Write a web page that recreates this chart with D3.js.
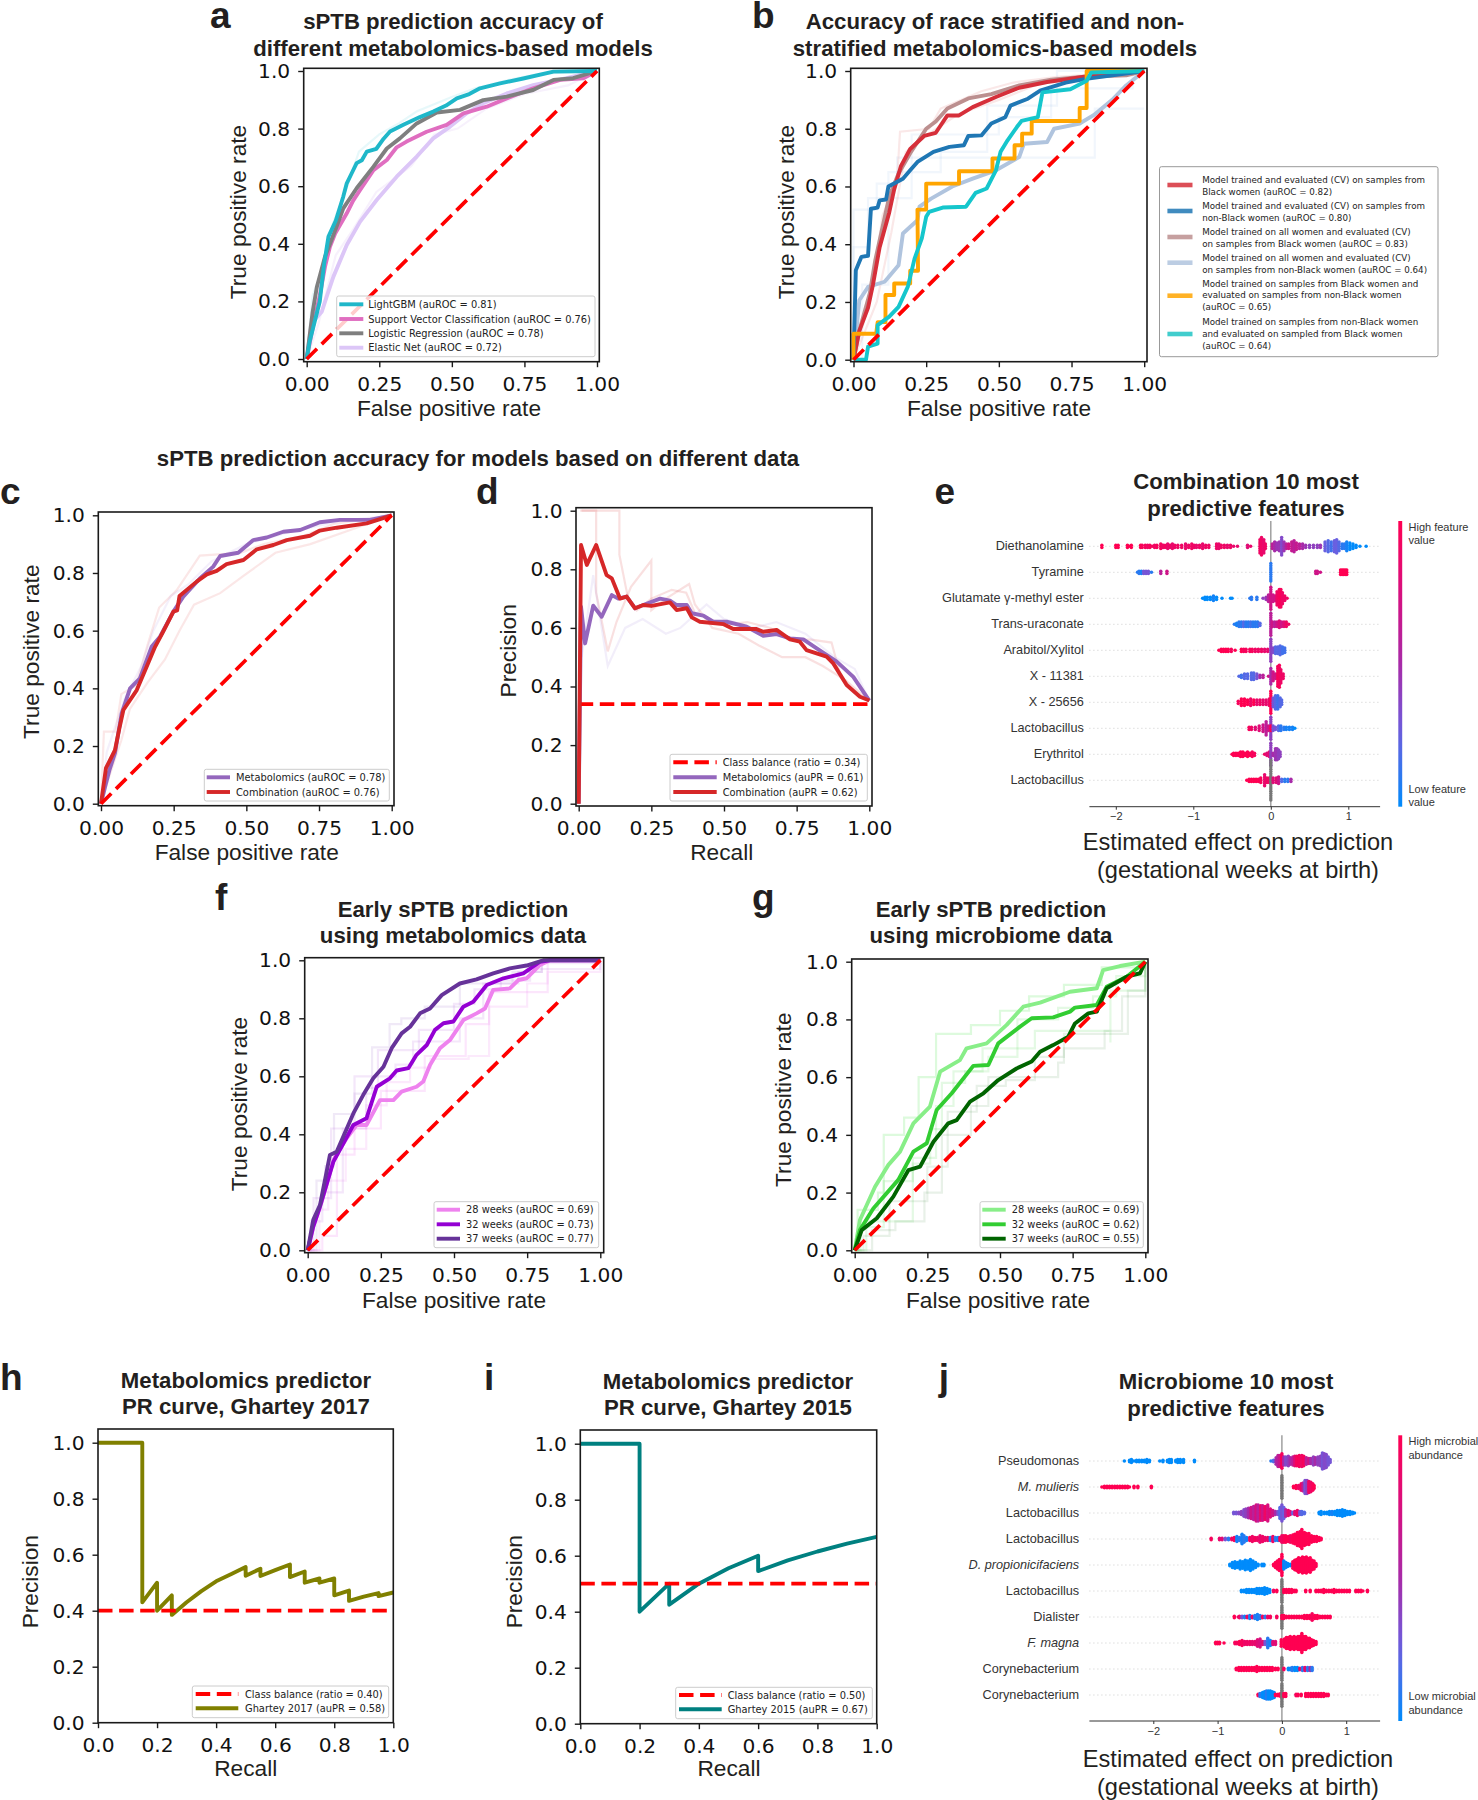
<!DOCTYPE html>
<html><head><meta charset="utf-8">
<script src="https://cdnjs.cloudflare.com/ajax/libs/d3/7.8.5/d3.min.js"></script>
<style>html,body{margin:0;background:#fff}svg{display:block}</style></head>
<body><svg id="c" width="1478" height="1800" xmlns="http://www.w3.org/2000/svg"></svg>
<script>
// ---------- data: panel a
const aLightGBM=[[0,0],[.01,.06],[.025,.12],[.045,.2],[.06,.33],[.075,.425],[.1,.48],[.126,.564],[.138,.61],[.155,.645],[.172,.68],[.19,.69],[.207,.72],[.24,.73],[.265,.765],[.287,.79],[.333,.813],[.39,.84],[.436,.859],[.48,.88],[.517,.905],[.56,.92],[.597,.94],[.666,.957],[.746,.974],[.85,.998],[1,1]];
const aSVC=[[0,0],[.015,.08],[.029,.147],[.045,.22],[.063,.32],[.08,.39],[.098,.436],[.138,.506],[.16,.55],[.184,.587],[.23,.656],[.276,.691],[.31,.735],[.344,.755],[.413,.789],[.482,.813],[.54,.853],[.62,.876],[.689,.905],[.78,.94],[.873,.969],[.953,.975],[1,1]];
const aLogistic=[[0,0],[.01,.08],[.02,.16],[.035,.25],[.063,.355],[.103,.46],[.126,.523],[.172,.593],[.23,.668],[.276,.731],[.321,.766],[.379,.818],[.448,.856],[.528,.865],[.608,.899],[.689,.911],[.78,.934],[.85,.969],[.918,.975],[1,1]];
const aElastic=[[0,0],[.017,.124],[.052,.164],[.07,.22],[.092,.286],[.138,.396],[.184,.477],[.241,.552],[.31,.633],[.379,.703],[.436,.766],[.494,.807],[.551,.853],[.608,.888],[.689,.922],[.78,.951],[.895,.975],[1,1]];
const aFaint1=[[0,0],[.02,.22],[.05,.3],[.09,.47],[.14,.6],[.18,.72],[.25,.78],[.32,.82],[.38,.86],[.5,.91],[.58,.94],[.7,.97],[.8,.99],[1,1]];
const aFaint2=[[0,0],[.04,.12],[.1,.36],[.16,.45],[.24,.58],[.36,.67],[.44,.78],[.52,.8],[.62,.87],[.75,.92],[.9,.95],[1,1]];
// ---------- data: panel b
const bRed=[[0,0],[.02,.1],[.05,.18],[.067,.26],[.09,.39],[.123,.51],[.14,.59],[.163,.67],[.195,.73],[.243,.775],[.283,.786],[.323,.846],[.363,.846],[.41,.875],[.49,.91],[.57,.942],[.666,.962],[.794,.98],[1,1]];
const bBlue=[[0,0],[.008,.31],[.027,.356],[.05,.36],[.06,.523],[.083,.527],[.09,.552],[.112,.555],[.12,.6],[.17,.627],[.195,.656],[.22,.685],[.275,.72],[.33,.737],[.38,.743],[.395,.775],[.44,.777],[.474,.818],[.522,.84],[.54,.88],[.6,.904],[.642,.932],[.73,.96],[.794,.972],[1,1]];
const bRosy=[[0,0],[.02,.1],[.056,.23],[.075,.345],[.1,.46],[.123,.565],[.155,.645],[.195,.715],[.25,.8],[.283,.825],[.323,.87],[.395,.905],[.474,.92],[.57,.95],[.68,.97],[.794,.98],[.938,.985],[1,1]];
const bSteel=[[0,0],[.02,.206],[.05,.252],[.107,.27],[.155,.327],[.17,.437],[.22,.483],[.227,.53],[.267,.558],[.34,.6],[.41,.627],[.49,.656],[.57,.702],[.586,.748],[.666,.754],[.69,.8],[.778,.818],[.826,.847],[.89,.9],[.938,.95],[1,1]];
const bOrange=[[0,0],[0,.09],[.078,.09],[.083,.13],[.11,.13],[.11,.224],[.14,.224],[.14,.264],[.195,.264],[.195,.308],[.222,.308],[.22,.52],[.25,.52],[.25,.61],[.363,.61],[.363,.653],[.478,.653],[.478,.697],[.554,.697],[.554,.743],[.58,.743],[.58,.783],[.613,.783],[.613,.827],[.778,.827],[.778,.872],[.802,.872],[.802,1],[1,1]];
const bTurq=[[0,0],[.043,0],[.05,.045],[.083,.056],[.083,.12],[.123,.149],[.155,.183],[.187,.253],[.21,.35],[.235,.42],[.25,.495],[.26,.512],[.307,.527],[.387,.53],[.42,.578],[.458,.593],[.49,.656],[.506,.72],[.53,.76],[.562,.806],[.578,.827],[.634,.84],[.65,.926],[.746,.937],[.802,.966],[.818,.995],[1,1]];
const bFaintSteel1=[[0,0],[0,.52],[.08,.52],[.08,.61],[.15,.61],[.15,.7],[.83,.7],[.83,.87],[1,.87]];
const bFaintSteel2=[[0,0],[0,.39],[.05,.39],[.05,.56],[.2,.56],[.2,.78],[.5,.78],[.5,.84],[.68,.84],[.68,.94],[.96,.94],[.96,1],[1,1]];
const bFaintSteel3=[[0,0],[.03,.26],[.12,.26],[.12,.65],[.3,.65],[.3,.72],[.46,.72],[.46,.88],[.7,.88],[.7,1],[1,1]];
const bFaintRose1=[[0,0],[.06,.22],[.1,.5],[.15,.62],[.16,.79],[.26,.8],[.3,.87],[.44,.93],[.55,.96],[.7,.98],[1,1]];
const bFaintRose2=[[0,0],[.08,.2],[.13,.44],[.18,.72],[.24,.77],[.36,.85],[.5,.9],[.65,.96],[.85,.99],[1,1]];
// ---------- data: panel c
const cPurple=[[0,0],[.014,.059],[.03,.12],[.048,.175],[.071,.313],[.1,.4],[.134,.435],[.174,.544],[.203,.579],[.249,.666],[.283,.718],[.34,.781],[.386,.822],[.41,.859],[.472,.87],[.524,.914],[.57,.923],[.627,.943],[.685,.949],[.753,.976],[.822,.984],[.925,.984],[1,1]];
const cRed=[[0,0],[.017,.123],[.048,.186],[.063,.26],[.077,.325],[.123,.394],[.157,.475],[.186,.544],[.214,.597],[.249,.666],[.262,.67],[.27,.72],[.329,.77],[.364,.795],[.398,.807],[.432,.831],[.49,.845],[.536,.882],[.593,.897],[.639,.914],[.719,.929],[.753,.947],[.811,.957],[.914,.972],[.96,.987],[1,1]];
const cFaint1=[[0,0],[.01,.25],[.05,.25],[.07,.38],[.12,.41],[.16,.55],[.2,.68],[.26,.74],[.34,.86],[.48,.87],[.56,.9],[.7,.93],[.8,.97],[1,1]];
const cFaint2=[[0,0],[.03,.1],[.07,.22],[.1,.33],[.16,.42],[.22,.5],[.27,.6],[.32,.69],[.41,.73],[.49,.79],[.6,.87],[.72,.9],[.86,.95],[1,1]];
const cFaint3=[[0,0],[.02,.18],[.08,.36],[.14,.48],[.18,.6],[.24,.72],[.3,.76],[.38,.84],[.5,.9],[.64,.94],[.82,.98],[1,1]];
// ---------- data: panel d
const dPurple=[[0,0],[.008,.672],[.022,.547],[.05,.676],[.079,.638],[.114,.712],[.136,.7],[.165,.707],[.194,.667],[.222,.678],[.28,.70],[.314,.693],[.337,.678],[.372,.678],[.389,.65],[.429,.642],[.463,.621],[.509,.621],[.578,.604],[.635,.573],[.681,.579],[.727,.564],[.773,.561],[.819,.53],[.888,.485],[.945,.433],[1,.352]];
const dRed=[[0,0],[.008,.883],[.028,.815],[.06,.883],[.096,.78],[.114,.769],[.142,.7],[.165,.707],[.194,.667],[.222,.678],[.25,.675],[.314,.687],[.337,.661],[.372,.667],[.389,.636],[.417,.621],[.497,.613],[.532,.596],[.612,.596],[.635,.587],[.681,.593],[.727,.561],[.761,.553],[.784,.524],[.853,.502],[.876,.479],[.922,.405],[.968,.365],[1,.352]];
const dFaint1=[[.005,1],[.14,1],[.14,.85],[.17,.7],[.2,.66],[.25,.7],[.32,.73],[.37,.72],[.4,.65],[.5,.61],[.58,.62],[.66,.6],[.72,.56],[.8,.56],[.87,.55],[.9,.44],[.95,.38],[1,.35]];
const dFaint2=[[.01,1],[.06,1],[.06,.72],[.1,.52],[.13,.62],[.18,.74],[.25,.83],[.25,.66],[.3,.7],[.38,.75],[.4,.68],[.46,.6],[.55,.58],[.62,.54],[.7,.5],[.78,.5],[.84,.47],[.92,.42],[1,.35]];
const dFaint3=[[.01,.5],[.05,.78],[.1,.47],[.16,.6],[.22,.63],[.3,.58],[.35,.6],[.44,.68],[.5,.63],[.6,.6],[.68,.62],[.78,.58],[.88,.5],[.95,.46],[1,.35]];
// ---------- data: panel f
const f28=[[0,0],[.019,.082],[.048,.168],[.088,.311],[.133,.386],[.167,.432],[.201,.432],[.247,.518],[.293,.518],[.321,.547],[.372,.564],[.395,.582],[.418,.639],[.452,.697],[.486,.725],[.532,.794],[.577,.817],[.606,.834],[.634,.898],[.691,.903],[.72,.932],[.748,.938],[.794,.984],[.828,1],[1,1]];
const f32=[[0,0],[.019,.082],[.042,.151],[.088,.306],[.156,.432],[.201,.455],[.236,.564],[.281,.593],[.304,.62],[.344,.628],[.372,.674],[.407,.708],[.435,.76],[.464,.783],[.498,.789],[.532,.84],[.566,.857],[.612,.915],[.669,.938],[.737,.955],[.794,.995],[.828,1],[1,1]];
const f37=[[0,0],[.019,.105],[.042,.156],[.076,.329],[.099,.34],[.156,.472],[.19,.536],[.224,.593],[.259,.633],[.287,.697],[.321,.748],[.35,.771],[.384,.817],[.418,.834],[.458,.88],[.52,.92],[.577,.934],[.634,.955],[.691,.972],[.748,.982],[.805,1],[1,1]];
const fFaint1=[[0,0],[.03,.24],[.06,.29],[.09,.47],[.16,.54],[.22,.62],[.22,.7],[.28,.78],[.32,.8],[.4,.84],[.52,.92],[.7,.96],[.8,1],[1,1]];
const fFaint2=[[0,0],[.05,.05],[.1,.15],[.1,.33],[.16,.42],[.23,.42],[.25,.55],[.36,.55],[.4,.67],[.54,.7],[.54,.78],[.62,.78],[.62,.89],[.82,.93],[.82,1],[1,1]];
const fFaint3=[[0,0],[.02,.18],[.08,.42],[.16,.6],[.3,.64],[.36,.72],[.44,.72],[.52,.8],[.6,.92],[.72,.96],[.8,.99],[1,1]];
const fFaint4=[[0,0],[.04,.14],[.07,.24],[.13,.35],[.2,.5],[.27,.58],[.35,.63],[.42,.66],[.55,.67],[.62,.84],[.75,.92],[.82,.96],[1,1]];
const fFaint5=[[0,0],[.01,.1],[.05,.2],[.12,.42],[.2,.56],[.24,.69],[.38,.76],[.5,.85],[.57,.9],[.66,.93],[.76,.97],[1,1]];
// ---------- data: panel g
const g28=[[0,0],[.018,.105],[.07,.22],[.116,.296],[.156,.342],[.202,.44],[.259,.498],[.294,.619],[.362,.659],[.385,.7],[.454,.717],[.523,.781],[.58,.844],[.638,.858],[.741,.896],[.833,.908],[.855,.971],[.913,.985],[1,1]];
const g32=[[0,0],[.018,.07],[.064,.145],[.15,.244],[.202,.342],[.248,.371],[.282,.486],[.334,.544],[.408,.639],[.46,.642],[.494,.717],[.569,.775],[.609,.804],[.683,.807],[.741,.827],[.758,.841],[.833,.85],[.867,.913],[.936,.948],[1,1]];
const g37=[[0,0],[.024,.07],[.076,.111],[.133,.186],[.185,.278],[.225,.29],[.271,.376],[.322,.44],[.351,.451],[.397,.515],[.443,.544],[.494,.59],[.557,.63],[.609,.654],[.638,.688],[.683,.711],[.735,.74],[.758,.786],[.804,.821],[.833,.827],[.867,.908],[.936,.948],[.982,.96],[1,1]];
const gFaint1=[[0,0],[.01,.14],[.08,.2],[.1,.4],[.17,.46],[.22,.6],[.28,.75],[.4,.78],[.5,.83],[.6,.88],[.72,.92],[.85,.98],[1,1]];
const gFaint2=[[0,0],[.04,.1],[.16,.1],[.2,.3],[.26,.42],[.3,.58],[.38,.62],[.44,.7],[.62,.7],[.62,.76],[.78,.76],[.88,.72],[.88,.9],[1,1]];
const gFaint3=[[0,0],[.06,.07],[.14,.1],[.24,.2],[.3,.4],[.4,.5],[.46,.6],[.56,.6],[.7,.65],[.72,.75],[.84,.75],[.94,.9],[1,1]];
const gFaint4=[[0,0],[.02,.08],[.1,.24],[.2,.32],[.28,.5],[.34,.62],[.46,.67],[.56,.8],[.7,.84],[.82,.88],[.9,.95],[1,1]];
const gFaint5=[[0,0],[.03,.05],[.12,.17],[.25,.29],[.32,.48],[.42,.57],[.52,.59],[.62,.67],[.72,.7],[.86,.76],[.92,.88],[1,1]];
// ---------- data: panels h, i
const hCurve=[[0,1],[.15,1],[.15,.43],[.2,.5],[.2,.4],[.25,.455],[.25,.385],[.3,.43],[.35,.47],[.4,.505],[.45,.53],[.5,.556],[.5,.525],[.55,.55],[.55,.524],[.6,.545],[.65,.565],[.65,.52],[.7,.54],[.7,.5],[.75,.515],[.75,.5],[.8,.515],[.8,.455],[.85,.472],[.85,.435],[.9,.45],[.95,.463],[.95,.452],[1,.465]];
const iCurve=[[0,1],[.2,1],[.2,.4],[.3,.5],[.3,.425],[.4,.5],[.5,.555],[.6,.6],[.6,.545],[.7,.583],[.8,.615],[.9,.643],[1,.667]];
const hBalance=.40, iBalance=.50, dBalance=.34;
// ---------- data: panel e, each entry = effect, dots stacked at it, feature value (null = missing)
const eLabels=["Diethanolamine","Tyramine","Glutamate γ-methyl ester","Trans-uraconate","Arabitol/Xylitol","X - 11381","X - 25656","Lactobacillus","Erythritol","Lactobacillus"];
const eDieth=[[-2.18,2,1],[-2,2,1],[-1.97,2,1],[-1.85,2,1],[-1.83,1,1],[-1.8,2,1],[-1.68,2,1],[-1.66,2,.95],[-1.62,2,.95],[-1.59,2,.9],[-1.56,2,.95],[-1.53,1,.95],[-1.5,2,.9],[-1.47,2,.95],[-1.42,3,.95],[-1.4,2,.9],[-1.38,2,.9],[-1.35,2,.95],[-1.33,3,.85],[-1.3,2,.9],[-1.27,3,.85],[-1.24,2,.9],[-1.2,2,.9],[-1.15,2,.9],[-1.1,3,.85],[-1.06,2,.9],[-1.02,3,.9],[-.99,2,.9],[-.96,2,.85],[-.92,2,.9],[-.88,3,.85],[-.84,2,.9],[-.8,2,.9],[-.7,3,.9],[-.67,3,.85],[-.64,2,.9],[-.6,2,.9],[-.56,2,.85],[-.52,2,.9],[-.48,1,.85],[-.43,1,.85],[-.3,2,.8],[-.26,1,.85],[-.14,7,.9],[-.12,9,.9],[-.09,7,.85],[-.07,3,.9],[.02,3,.6],[.05,5,.5],[.08,4,.45],[.11,5,.45],[.14,9,.35],[.17,5,.45],[.2,3,.6],[.23,3,.7],[.27,5,.65],[.3,6,.6],[.33,4,.65],[.37,3,.6],[.41,3,.5],[.45,2,.45],[.5,2,.4],[.55,2,.4],[.6,2,.4],[.64,2,.45],[.7,5,.25],[.74,6,.2],[.78,5,.15],[.82,6,.25],[.85,7,.25],[.88,5,.2],[.92,3,.1],[.95,3,.1],[.98,5,.05],[1.02,4,0],[1.06,3,0],[1.1,2,0],[1.15,1,0],[1.23,1,0]];
const eTyr=[[-1.72,1,.1],[-1.7,2,.1],[-1.67,2,.05],[-1.64,2,.3],[-1.61,2,.3],[-1.58,2,.3],[-1.54,1,.1],[-1.42,2,.6],[-1.34,2,.7],[0,9,.1],[.58,2,.7],[.6,2,.7],[.64,1,.7],[.9,3,1],[.92,3,1],[.94,3,1],[.96,3,1],[.98,3,1]];
const eGlu=[[-.88,1,0],[-.85,2,0],[-.82,2,0],[-.78,2,0],[-.74,3,.05],[-.7,2,0],[-.63,1,0],[-.52,1,0],[-.5,1,0],[-.27,1,.1],[-.25,2,.1],[-.18,2,.1],[-.1,1,.4],[-.06,2,.45],[-.03,4,.6],[0,11,.7],[.03,4,.7],[.06,3,.7],[.08,7,.9],[.11,9,.95],[.13,9,.95],[.15,6,.9],[.18,3,.9],[.21,1,.9]];
const eTrans=[[-.47,1,.1],[-.44,2,.05],[-.41,3,.1],[-.38,3,.1],[-.35,3,.2],[-.32,3,.1],[-.29,3,.1],[-.26,3,.15],[-.23,3,.1],[-.2,3,.1],[-.17,3,.1],[-.14,2,.2],[0,11,.6],[.02,3,.7],[.05,3,.6],[.08,3,.7],[.11,4,.8],[.14,3,.7],[.17,3,.8],[.2,3,.9],[.23,1,.9]];
const eArab=[[-.67,1,1],[-.64,2,1],[-.61,2,1],[-.58,2,1],[-.55,2,1],[-.51,2,.95],[-.46,1,1],[-.38,2,1],[-.35,2,.95],[-.32,2,.95],[-.27,2,.95],[-.24,2,.95],[-.2,2,.9],[-.16,2,.9],[-.12,2,.9],[-.08,2,.85],[-.04,2,.85],[0,11,.4],[.03,3,.35],[.06,4,.2],[.09,4,.2],[.12,5,.2],[.15,4,.15],[.18,3,.15]];
const eX1=[[-.41,1,.2],[-.38,2,.15],[-.34,3,.2],[-.3,3,.2],[-.25,4,.2],[-.22,4,.2],[-.18,3,.3],[-.14,2,.5],[-.1,2,.6],[-.03,1,.7],[0,8,.5],[.03,5,.7],[.06,3,.7],[.09,10,.95],[.11,11,.95],[.13,7,.9],[.16,3,.9]];
const eX2=[[-.42,2,.95],[-.38,4,1],[-.34,4,1],[-.3,3,1],[-.26,4,.9],[-.22,3,1],[-.18,3,.85],[-.14,3,.9],[-.1,3,.85],[-.06,3,.85],[-.02,4,.85],[0,11,1],[.03,5,.3],[.06,7,.2],[.09,7,.15],[.12,5,.2],[.14,3,.2]];
const eLac1=[[-.28,2,.95],[-.25,2,.9],[-.2,2,.8],[-.15,3,.8],[-.1,4,.7],[-.06,7,.6],[-.03,3,.7],[0,11,.4],[0,3,1],[.03,3,.3],[.06,2,.3],[.1,3,.2],[.13,3,.1],[.17,2,.1],[.2,2,.05],[.24,2,.05],[.28,2,.05],[.31,1,0]];
const eEry=[[-.5,1,1],[-.48,2,1],[-.45,2,1],[-.42,2,1],[-.39,3,1],[-.36,3,1],[-.33,2,1],[-.3,3,1],[-.27,2,1],[-.24,3,.95],[-.21,2,.95],[-.08,1,.9],[-.05,2,.8],[-.02,3,.8],[0,11,.4],[.03,2,.5],[.06,6,.45],[.08,6,.45],[.1,5,.4],[.12,3,.4]];
const eLac2=[[-.31,1,1],[-.28,2,1],[-.25,2,1],[-.22,2,1],[-.19,2,1],[-.16,2,1],[-.13,3,.95],[-.08,6,.85],[-.05,3,.9],[-.02,3,.9],[0,19,null],[.03,3,.8],[.07,3,.8],[.1,4,.7],[.14,2,.2],[.18,2,.1],[.22,2,.1],[.26,2,.5]];
// ---------- data: panel j
const jLabels=["Pseudomonas","M. mulieris","Lactobacillus","Lactobacillus","D. propionicifaciens","Lactobacillus","Dialister","F. magna","Corynebacterium","Corynebacterium"];
const jItalic=["M. mulieris","D. propionicifaciens","F. magna"];
const jPseudo=[[-2.45,1,0],[-2.37,2,0],[-2.34,3,0],[-2.3,1,0],[-2.26,2,0],[-2.22,2,0],[-2.18,2,0],[-2.14,2,0],[-2.1,3,0],[-2.06,2,0],[-1.9,1,0],[-1.85,2,0],[-1.78,2,0],[-1.75,3,0],[-1.72,3,0],[-1.65,2,0],[-1.62,3,0],[-1.58,3,0],[-1.53,3,0],[-1.36,2,0],[-.17,1,.1],[-.13,2,.2],[-.09,5,.5],[-.06,8,.6],[-.03,8,.7],[0,10,.95],[.03,6,.5],[.06,6,.35],[.1,7,.4],[.13,5,.5],[.17,6,.6],[.2,7,.8],[.23,7,.95],[.27,8,.95],[.31,8,.9],[.34,7,.95],[.38,5,.6],[.42,4,.7],[.45,4,.5],[.49,6,.4],[.52,5,.5],[.56,6,.4],[.6,7,.4],[.63,11,.3],[.66,10,.35],[.69,9,.35],[.72,6,.3],[.75,3,.3]];
const jMul=[[-2.8,1,1],[-2.76,2,1],[-2.72,2,1],[-2.68,2,1],[-2.64,2,1],[-2.6,2,1],[-2.56,2,1],[-2.52,2,1],[-2.48,2,1],[-2.44,2,1],[-2.4,2,1],[-2.37,1,1],[-2.3,2,1],[-2.24,2,1],[-2.03,2,1],[0,15,null],[.18,2,1],[.22,3,1],[.26,3,.9],[.3,5,.9],[.33,6,.6],[.36,9,.3],[.39,9,.4],[.42,8,.9],[.45,7,.9],[.48,5,.95],[.5,3,1]];
const jLac1=[[-.75,2,.3],[-.71,2,.3],[-.67,2,.35],[-.63,3,.4],[-.59,5,.35],[-.56,6,.4],[-.52,7,.5],[-.48,8,.7],[-.44,9,.6],[-.4,11,.75],[-.37,11,.6],[-.33,10,.85],[-.3,10,.7],[-.26,9,.9],[-.22,11,.75],[-.18,6,.8],[-.14,4,.7],[-.1,3,.5],[-.06,3,.3],[-.03,8,.2],[0,11,.3],[.03,8,.25],[.06,5,.6],[.1,4,.85],[.13,3,.8],[.17,2,.25],[.2,3,.8],[.24,4,.9],[.28,3,.3],[.31,3,.2],[.35,2,.2],[.58,2,0],[.61,3,0],[.66,2,0],[.7,2,0],[.74,3,0],[.78,3,.05],[.82,3,0],[.86,4,0],[.9,4,0],[.94,5,0],[.98,4,0],[1.02,3,0],[1.06,3,0],[1.1,2,0],[1.13,1,0]];
const jLac2=[[-1.1,2,.95],[-.97,2,.85],[-.93,2,.8],[-.88,2,.3],[-.83,2,.1],[-.78,2,.9],[-.74,3,.95],[-.7,4,.05],[-.66,3,.1],[-.62,7,.05],[-.59,5,.1],[-.55,3,.05],[-.5,3,.95],[-.46,4,.9],[-.42,3,.95],[-.38,3,.9],[-.34,5,.85],[-.3,4,.9],[-.26,3,.85],[-.22,3,.9],[-.18,3,.1],[-.14,4,.9],[-.1,3,.1],[-.06,3,.05],[-.03,3,1],[0,5,.9],[.03,5,.95],[.06,5,1],[.1,4,1],[.13,5,.95],[.17,6,1],[.2,7,1],[.24,9,1],[.28,10,1],[.31,13,1],[.35,9,1],[.38,8,1],[.42,8,1],[.46,5,1],[.5,4,1],[.54,4,1],[.58,3,1],[.61,2,1]];
const jDprop=[[-.81,2,0],[-.77,4,0],[-.73,5,0],[-.69,4,0],[-.65,6,0],[-.61,5,0],[-.57,7,0],[-.53,6,0],[-.49,8,0],[-.45,6,0],[-.41,4,0],[-.37,2,0],[-.31,2,0],[-.28,2,0],[-.13,2,1],[-.1,4,1],[-.07,6,1],[-.04,8,1],[0,14,1],[.03,6,0],[.06,4,.05],[.09,3,0],[.13,2,0],[.17,5,1],[.2,7,1],[.23,8,1],[.26,10,1],[.29,9,1],[.32,11,1],[.35,10,1],[.38,11,1],[.41,9,1],[.44,10,1],[.47,7,1],[.5,6,1],[.53,3,1]];
const jLac3=[[-.63,2,0],[-.59,2,0],[-.55,3,0],[-.51,3,0],[-.47,3,0],[-.43,3,0],[-.39,4,0],[-.35,4,0],[-.31,4,0],[-.27,5,0],[-.23,4,0],[-.19,3,0],[-.13,2,.95],[-.08,2,1],[0,15,null],[.03,3,1],[.07,3,1],[.11,3,1],[.15,3,1],[.19,2,1],[.22,2,1],[.37,2,1],[.44,2,1],[.53,2,1],[.57,2,1],[.61,2,1],[.65,3,1],[.69,2,1],[.73,2,1],[.77,2,1],[.81,3,1],[.85,2,1],[.89,2,1],[.93,2,1],[.97,2,1],[1.01,2,1],[1.05,2,1],[1.15,2,1],[1.19,2,1],[1.23,2,1],[1.26,1,1],[1.33,2,1]];
const jDial=[[-.74,2,1],[-.68,1,.9],[-.66,2,.9],[-.62,2,.3],[-.58,2,.05],[-.54,2,.9],[-.5,3,.05],[-.46,2,.9],[-.42,3,.1],[-.38,4,.05],[-.34,3,.1],[-.3,2,.95],[-.26,2,.1],[-.22,2,.9],[-.18,2,.95],[-.08,2,.95],[0,15,null],[0,3,1],[.03,3,1],[.07,2,1],[.11,2,1],[.15,2,1],[.19,2,1],[.23,2,1],[.27,2,1],[.31,2,1],[.35,3,1],[.39,3,1],[.43,3,1],[.47,5,.95],[.51,3,1],[.55,3,1],[.59,2,1],[.63,2,1],[.67,2,1],[.71,2,1],[.75,2,1]];
const jFmag=[[-1.03,2,1],[-1,2,1],[-.97,2,1],[-.9,1,1],[-.73,2,.95],[-.7,2,.95],[-.66,3,1],[-.62,4,.95],[-.58,3,.9],[-.54,3,.9],[-.5,3,.9],[-.46,3,.85],[-.42,3,.85],[-.38,5,.8],[-.34,6,.75],[-.3,3,.8],[-.26,3,.3],[-.22,7,.1],[-.18,4,.05],[-.14,3,.8],[-.1,3,.8],[-.01,5,1],[.04,6,1],[.07,8,1],[.1,8,1],[.13,9,1],[.16,8,1],[.19,9,1],[.22,8,1],[.25,9,1],[.28,9,1],[.31,13,1],[.34,9,1],[.37,9,1],[.4,7,1],[.43,7,1],[.46,5,1],[.49,4,1],[.53,3,1]];
const jCor1=[[-.71,2,1],[-.67,3,1],[-.63,3,1],[-.59,3,1],[-.55,3,1],[-.51,3,1],[-.47,3,1],[-.43,3,1],[-.39,4,1],[-.35,3,1],[-.31,3,1],[-.27,3,1],[-.23,3,1],[-.19,3,1],[-.15,3,1],[-.1,2,1],[-.06,2,1],[0,15,null],[.03,2,.95],[.1,2,0],[.13,2,0],[.16,3,.1],[.2,3,0],[.24,3,0],[.28,2,.9],[.32,3,.1],[.36,3,.9],[.4,3,.1],[.44,3,.5],[.47,3,.1]];
const jCor2=[[-.37,2,1],[-.34,3,.1],[-.3,4,0],[-.27,5,0],[-.24,6,.1],[-.21,6,0],[-.18,6,0],[-.15,5,0],[-.12,4,0],[-.1,2,1],[-.06,2,1],[-.02,3,1],[0,15,null],[.03,3,1],[.06,3,1],[.22,2,.95],[.25,2,1],[.3,2,1],[.37,3,1],[.41,3,1],[.45,3,1],[.49,3,1],[.53,3,1],[.57,3,1],[.61,3,1],[.65,3,1],[.69,2,1],[.72,2,1]];
const eRows=[eDieth,eTyr,eGlu,eTrans,eArab,eX1,eX2,eLac1,eEry,eLac2];
const jRows=[jPseudo,jMul,jLac1,jLac2,jDprop,jLac3,jDial,jFmag,jCor1,jCor2];
const ticksQuarter=[0,.25,.5,.75,1], ticksFifth=[0,.2,.4,.6,.8,1];
const effectStops=[0,.25,.5,.75,1], effectColors=['#008bfb','#6a60e0','#a82aa8','#d80f7f','#ff0052'];

// ---------- helpers
const svg=d3.select("#c");
const HEL='"Liberation Sans",Arial,sans-serif', DJV='"DejaVu Sans",sans-serif', INK='#231f20';
const LW=3.9;
const defs=svg.append('defs');
let clipN=0;
function txt(x,y,s,o={}){
  return svg.append('text').attr('x',x).attr('y',y).text(s)
    .attr('font-family',o.family||HEL).attr('font-size',o.size||22.7).attr('font-weight',o.weight||'normal')
    .attr('font-style',o.style||'normal').attr('text-anchor',o.anchor||'middle').attr('fill',o.fill||INK)
    .attr('transform',o.rot?`rotate(${o.rot} ${x} ${y})`:null);
}
const title=(x,y,s,size=22.2)=>txt(x,y,s,{size,weight:'bold'});
const letter=(x,y,s)=>txt(x,y,s,{size:37,weight:'bold',anchor:'start'});
function panel(p){
  const x=d3.scaleLinear().domain([0,1]).range([p.x0,p.x1]);
  const y=d3.scaleLinear().domain([0,1]).range([p.y0,p.y1]);
  const id='clip'+(clipN++);
  defs.append('clipPath').attr('id',id).append('rect').attr('x',p.l).attr('y',p.t).attr('width',p.r-p.l).attr('height',p.b-p.t);
  const g=svg.append('g').attr('clip-path',`url(#${id})`);
  const smooth=d3.line().x(d=>x(d[0])).y(d=>y(d[1]));
  const step=d3.line().x(d=>x(d[0])).y(d=>y(d[1])).curve(d3.curveStepAfter);
  (p.faint||[]).forEach(f=>g.append('path').datum(f[0]).attr('d',f[2]?smooth:step).attr('fill','none').attr('stroke',f[1]).attr('stroke-width',2.2).attr('stroke-opacity',f[3]||.14));
  (p.lines||[]).forEach(l=>g.append('path').datum(l[0]).attr('d',smooth).attr('fill','none').attr('stroke',l[1]).attr('stroke-width',l[2]||LW).attr('stroke-linejoin','round'));
  const dash=(p.balance!=null)?[[0,p.balance],[1,p.balance]]:[[0,0],[1,1]];
  g.append('path').datum(dash).attr('d',smooth).attr('fill','none').attr('stroke','#f00').attr('stroke-width',3.7).attr('stroke-dasharray','14.5 6.6');
  (p.over||[]).forEach(l=>g.append('path').datum(l[0]).attr('d',smooth).attr('fill','none').attr('stroke',l[1]).attr('stroke-width',l[2]||LW).attr('stroke-linejoin','round'));
  const xf=p.xfmt||'.2f', xt=p.xticks||ticksQuarter;
  const ax=svg.append('g').attr('transform',`translate(0,${p.b})`).call(d3.axisBottom(x).tickValues(xt).tickFormat(d3.format(xf)).tickSize(5.5).tickPadding(9.5));
  const ay=svg.append('g').attr('transform',`translate(${p.l},0)`).call(d3.axisLeft(y).tickValues(ticksFifth).tickFormat(d3.format('.1f')).tickSize(5.5).tickPadding(8));
  [ax,ay].forEach(a=>{a.select('.domain').remove();a.selectAll('line').attr('stroke','#1a1a1a').attr('stroke-width',1.4);
    a.selectAll('text').attr('font-family',DJV).attr('font-size',20.2).attr('fill','#111');});
  svg.append('rect').attr('x',p.l).attr('y',p.t).attr('width',p.r-p.l).attr('height',p.b-p.t).attr('fill','none').attr('stroke','#1a1a1a').attr('stroke-width',1.6);
  if(p.xlabel) txt(p.xlabel[1],p.xlabel[2]+1.3,p.xlabel[0]);
  if(p.ylabel) txt(p.ylabel[1]-1,p.ylabel[2],p.ylabel[0],{rot:-90});
  if(p.legend) legend(p.legend);
}
function legend(L){
  svg.append('rect').attr('x',L.x0).attr('y',L.y0).attr('width',L.x1-L.x0).attr('height',L.y1-L.y0).attr('rx',2).attr('fill','#fff').attr('fill-opacity',.8).attr('stroke',L.border||'#ccc').attr('stroke-width',1);
  L.rows.forEach(r=>{
    svg.append('line').attr('x1',L.lx0).attr('x2',L.lx1).attr('y1',r.y).attr('y2',r.y).attr('stroke',r.color).attr('stroke-width',L.lineWidth||LW).attr('stroke-opacity',L.lineOpacity||1).attr('stroke-dasharray',r.dash?'14.5 6.6':null);
    r.text.forEach((t,i)=>txt(L.tx,r.tys?r.tys[i]:r.y+3.6,t,{family:DJV,size:L.size||9.85,anchor:'start',fill:'#222'}));
  });
}
const colorOf=d3.scaleLinear().domain(effectStops).range(effectColors);
function swarm(o){
  const x=d3.scaleLinear().domain([0,1]).range([o.z,o.z+o.unit]);
  const rowY=i=>o.y0+i*26;
  const dots=[];
  o.rows.forEach((r,i)=>{
    r.forEach(e=>{for(let k=0;k<e[1];k++)dots.push({v:e[0],c:e[2],y:rowY(i)+(k-(e[1]-1)/2)*o.gap});});
  });
  o.rows.forEach((r,i)=>svg.append('line').attr('x1',o.ax0).attr('x2',o.ax1).attr('y1',rowY(i)).attr('y2',rowY(i)).attr('stroke','#ccc').attr('stroke-width',1).attr('stroke-dasharray','1 3'));
  svg.append('line').attr('x1',x(0)).attr('x2',x(0)).attr('y1',o.top).attr('y2',o.axis).attr('stroke','#999').attr('stroke-width',1.4);
  svg.append('g').selectAll('circle').data(dots).join('circle').attr('cx',d=>x(d.v)).attr('cy',d=>d.y).attr('r',1.75).attr('fill',d=>d.c==null?'#777':colorOf(d.c));
  svg.append('line').attr('x1',o.ax0).attr('x2',o.ax1).attr('y1',o.axis).attr('y2',o.axis).attr('stroke','#333').attr('stroke-width',1);
  const ax=svg.append('g').attr('transform',`translate(0,${o.axis})`).call(d3.axisBottom(x).tickValues([-2,-1,0,1]).tickFormat(d3.format('d')).tickSize(3).tickPadding(3));
  ax.select('.domain').remove();ax.selectAll('line').attr('stroke','#333');
  ax.selectAll('text').attr('font-family',HEL).attr('font-size',11).attr('fill','#333');
  o.labels.forEach((t,i)=>txt(o.lx,rowY(i)+.5,t,{size:12.7,anchor:'end',fill:'#333',style:(jItalic.includes(t)?'italic':'normal')}).attr('dominant-baseline','middle'));
  const id='grad'+(clipN++);
  const gr=defs.append('linearGradient').attr('id',id).attr('x1',0).attr('x2',0).attr('y1',0).attr('y2',1);
  d3.range(0,1.01,.1).forEach(t=>gr.append('stop').attr('offset',t).attr('stop-color',colorOf(1-t)));
  svg.append('rect').attr('x',1398.3).attr('width',3.9).attr('y',o.top).attr('height',o.axis-o.top).attr('fill',`url(#${id})`);
  o.cbText.forEach(c=>txt(1408.5,c[1],c[0],{size:11,anchor:'start',fill:'#333'}));
}

// ---------- panel a
letter(210,28,'a');
title(453,29,'sPTB prediction accuracy of');title(453,56,'different metabolomics-based models');
panel({l:303.7,r:599.3,t:68.3,b:361.7,x0:306.7,x1:597,y0:359,y1:71,
 faint:[[aFaint1,'#17becf',1,.1],[aFaint2,'#d7b8f0',1,.2]],
 lines:[[aElastic,'#dcc6f7'],[aSVC,'#e06ec0'],[aLogistic,'#7f7f7f'],[aLightGBM,'#1fb7c9']],
 xlabel:['False positive rate',449,415],ylabel:['True positive rate',246.5,212],
 legend:{x0:336.7,x1:595,y0:296,y1:356.7,lx0:339.3,lx1:363.3,tx:368.3,rows:[
  {y:304.3,color:'#1fb7c9',text:['LightGBM (auROC = 0.81)']},{y:319,color:'#e06ec0',text:['Support Vector Classification (auROC = 0.76)']},
  {y:333.3,color:'#7f7f7f',text:['Logistic Regression (auROC = 0.78)']},{y:347.7,color:'#dcc6f7',text:['Elastic Net (auROC = 0.72)']}]}});

// ---------- panel b
letter(752,28,'b');
title(995,29,'Accuracy of race stratified and non-');title(995,56,'stratified metabolomics-based models');
panel({l:850.7,r:1147,t:68.3,b:361.7,x0:853.5,x1:1144.2,y0:359.7,y1:71,
 faint:[[bFaintSteel1,'#9fc0e8'],[bFaintSteel2,'#9fc0e8'],[bFaintSteel3,'#9fc0e8'],[bFaintRose1,'#e58a8a',1,.2],[bFaintRose2,'#e58a8a',1,.2]],
 lines:[[bSteel,'#b0c4de'],[bRosy,'#bc8f8f'],[bRed,'#d62f3a'],[bBlue,'#1f77b4'],[bOrange,'#ffa500'],[bTurq,'#15c6cc']],
 xlabel:['False positive rate',999,415],ylabel:['True positive rate',794.5,212],
 legend:{x0:1159.5,x1:1438,y0:166.7,y1:356.7,lx0:1167.4,lx1:1192.5,tx:1202.2,size:8.72,border:'#999',lineOpacity:.85,lineWidth:4.6,rows:[
  {y:185,color:'#d62f3a',text:['Model trained and evaluated (CV) on samples from','Black women (auROC = 0.82)'],tys:[183,195]},
  {y:211,color:'#1f77b4',text:['Model trained and evaluated (CV) on samples from','non-Black women (auROC = 0.80)'],tys:[209,221]},
  {y:237,color:'#bc8f8f',text:['Model trained on all women and evaluated (CV)','on samples from Black women (auROC = 0.83)'],tys:[235,247]},
  {y:262.7,color:'#b0c4de',text:['Model trained on all women and evaluated (CV)','on samples from non-Black women (auROC = 0.64)'],tys:[261,272.7]},
  {y:295.7,color:'#ffa500',text:['Model trained on samples from Black women and','evaluated on samples from non-Black women','(auROC = 0.65)'],tys:[286.5,298.3,310]},
  {y:334,color:'#20c4c4',text:['Model trained on samples from non-Black women','and evaluated on sampled from Black women','(auROC = 0.64)'],tys:[325,336.8,348.5]}]}});

// ---------- row title, panels c, d
title(478,465.5,'sPTB prediction accuracy for models based on different data');
letter(0,504.3,'c');
panel({l:98.3,r:394,t:512,b:805.7,x0:101,x1:391.7,y0:803.7,y1:515.3,
 faint:[[cFaint1,'#e57070',1,.17],[cFaint2,'#e57070',1,.17],[cFaint3,'#a98be0',1,.13]],
 lines:[[cPurple,'#9467bd'],[cRed,'#d62728']],
 xlabel:['False positive rate',246.7,859],ylabel:['True positive rate',40,651.7],
 legend:{x0:204.3,x1:389.3,y0:769.3,y1:801,lx0:206.7,lx1:230,tx:236,rows:[
  {y:777.3,color:'#9467bd',text:['Metabolomics (auROC = 0.78)']},{y:792,color:'#d62728',text:['Combination (auROC = 0.76)']}]}});
letter(476,504.3,'d');
panel({l:576,r:872,t:507.7,b:806,x0:578.7,x1:869.3,y0:803.7,y1:510.7,balance:dBalance,
 faint:[[dFaint1,'#e57070',1,.22],[dFaint2,'#e57070',1,.22],[dFaint3,'#a98be0',1,.15]],
 lines:[[dPurple,'#9467bd']],over:[[dRed,'#d62728']],
 xlabel:['Recall',721.7,859],ylabel:['Precision',517.5,650.8],
 legend:{x0:670,x1:867.3,y0:754.3,y1:801,lx0:673.3,lx1:716.7,tx:722.7,rows:[
  {y:762.3,color:'#f00',dash:1,text:['Class balance (ratio = 0.34)']},{y:777.3,color:'#9467bd',text:['Metabolomics (auPR = 0.61)']},{y:792,color:'#d62728',text:['Combination (auPR = 0.62)']}]}});

// ---------- panel e
letter(934.5,504.3,'e');
title(1246,489,'Combination 10 most');title(1246,515.5,'predictive features');
swarm({z:1270.8,unit:77.5,y0:546.3,gap:2.2,top:521,axis:806.7,ax0:1089.4,ax1:1380.1,lx:1083.8,rows:eRows,labels:eLabels,
 cbText:[['High feature',530.5],['value',544],['Low feature',792.5],['value',806]]});
txt(1238,849.5,'Estimated effect on prediction',{size:23.6});txt(1238,878,'(gestational weeks at birth)',{size:23.6});

// ---------- panels f, g
letter(215,910,'f');
title(453,916.7,'Early sPTB prediction');title(453,943,'using metabolomics data');
panel({l:304.7,r:603.7,t:957.7,b:1252.7,x0:307.7,x1:600.3,y0:1250.3,y1:960.3,
 faint:[[fFaint1,'#b48fd8',0,.2],[fFaint2,'#ee82ee',0,.2],[fFaint3,'#c070e0',0,.17],[fFaint4,'#ee82ee',0,.17],[fFaint5,'#c070e0',0,.17]],
 lines:[[f28,'#ee82ee'],[f32,'#9400d3'],[f37,'#663399']],
 xlabel:['False positive rate',454,1307],ylabel:['True positive rate',248,1104],
 legend:{x0:434,x1:598.7,y0:1201.7,y1:1247.7,lx0:436.7,lx1:460,tx:466,rows:[
  {y:1209.7,color:'#ee82ee',text:['28 weeks (auROC = 0.69)']},{y:1224.3,color:'#9400d3',text:['32 weeks (auROC = 0.73)']},{y:1238.7,color:'#663399',text:['37 weeks (auROC = 0.77)']}]}});
letter(752,910,'g');
title(991,916.7,'Early sPTB prediction');title(991,943,'using microbiome data');
panel({l:851.7,r:1148,t:959,b:1252.7,x0:854.7,x1:1145.3,y0:1250.3,y1:961.7,
 faint:[[gFaint1,'#90ee90',0,.3],[gFaint2,'#32cd32',0,.13],[gFaint3,'#006400',0,.09],[gFaint4,'#32cd32',0,.13],[gFaint5,'#006400',0,.09]],
 lines:[[g28,'#88ee88'],[g32,'#32cd32'],[g37,'#006400']],
 xlabel:['False positive rate',998,1307],ylabel:['True positive rate',792,1099.7],
 legend:{x0:980,x1:1143.3,y0:1201.7,y1:1247.7,lx0:982.3,lx1:1005.7,tx:1011.7,rows:[
  {y:1209.7,color:'#88ee88',text:['28 weeks (auROC = 0.69)']},{y:1224.3,color:'#32cd32',text:['32 weeks (auROC = 0.62)']},{y:1238.7,color:'#006400',text:['37 weeks (auROC = 0.55)']}]}});

// ---------- panels h, i
letter(0,1390,'h');
title(246,1388,'Metabolomics predictor');title(246,1414,'PR curve, Ghartey 2017');
panel({l:98,r:393.3,t:1429,b:1722.7,x0:98,x1:393.3,y0:1722.7,y1:1442.7,balance:hBalance,xticks:ticksFifth,xfmt:'.1f',
 lines:[[hCurve,'#808000']],
 xlabel:['Recall',245.7,1775],ylabel:['Precision',39.5,1581.7],
 legend:{x0:192.3,x1:388.7,y0:1686,y1:1717.7,lx0:195.7,lx1:238.3,tx:245,rows:[
  {y:1694,color:'#f00',dash:1,text:['Class balance (ratio = 0.40)']},{y:1708.3,color:'#808000',text:['Ghartey 2017 (auPR = 0.58)']}]}});
letter(484,1390,'i');
title(728,1389,'Metabolomics predictor');title(728,1415,'PR curve, Ghartey 2015');
panel({l:580.3,r:876.7,t:1430,b:1723.7,x0:580.3,x1:876.7,y0:1723.7,y1:1443.7,balance:iBalance,xticks:ticksFifth,xfmt:'.1f',
 lines:[[iCurve,'#008080']],
 xlabel:['Recall',729,1775],ylabel:['Precision',523,1581.7],
 legend:{x0:675.7,x1:872.3,y0:1687.3,y1:1718.7,lx0:679,lx1:721.7,tx:727.7,rows:[
  {y:1695,color:'#f00',dash:1,text:['Class balance (ratio = 0.50)']},{y:1709.3,color:'#008080',text:['Ghartey 2015 (auPR = 0.67)']}]}});

// ---------- panel j
letter(938.7,1390,'j');
title(1226,1389,'Microbiome 10 most');title(1226,1415.5,'predictive features');
swarm({z:1281.9,unit:64.3,y0:1461,gap:1.6,top:1435.3,axis:1721,ax0:1089.4,ax1:1380.1,lx:1079.2,rows:jRows,labels:jLabels,
 cbText:[['High microbial',1445],['abundance',1458.5],['Low microbial',1700],['abundance',1713.5]]});
txt(1238,1767,'Estimated effect on prediction',{size:23.6});txt(1238,1795,'(gestational weeks at birth)',{size:23.6});
</script></body></html>
